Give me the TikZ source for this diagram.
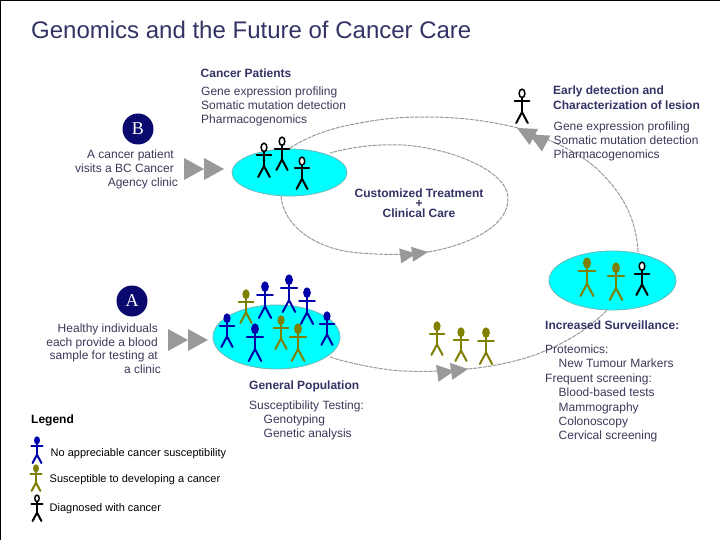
\documentclass[tikz,border=0pt]{standalone}
\usepackage{fontspec}
\usetikzlibrary{shapes.geometric}
\setmainfont{Liberation Sans}
\newfontfamily\badgefont{Liberation Serif}
\definecolor{navy}{HTML}{333366}
\definecolor{bodyc}{HTML}{3A3A5A}
\definecolor{badge}{HTML}{0A0A6E}
\definecolor{blueman}{HTML}{0000AA}
\definecolor{oliveman}{HTML}{7F7F00}
\definecolor{flow}{HTML}{999999}
\definecolor{aqua}{HTML}{00FFFF}
\tikzset{
  body/.style={font=\fontsize{12}{14}\selectfont,text=bodyc,inner sep=0pt,anchor=west,text height=8.6pt,text depth=2.4pt,yshift=-0.8pt},
  head/.style={font=\fontsize{12}{14}\selectfont\bfseries,text=navy,inner sep=0pt,anchor=west,text height=8.6pt,text depth=2.4pt,yshift=-0.8pt},
  righttext/.style={font=\fontsize{12}{14}\selectfont,text=bodyc,inner sep=0pt,anchor=east,text height=8.6pt,text depth=2.4pt,yshift=-0.8pt},
  legendtext/.style={font=\fontsize{11}{12}\selectfont,text=black,inner sep=0pt,anchor=west,text height=8pt,text depth=2.2pt,yshift=-0.5pt},
  crowd/.style={draw=flow!70!aqua,line width=0.8pt,fill=aqua,ellipse},
  flowline/.style={draw=flow,line width=1pt,dash pattern=on 4pt off 1pt},
  tip/.style={fill=flow,draw=none},
  badgec/.style={circle,fill=badge,text=white,inner sep=0pt,minimum size=31pt,font=\fontsize{18}{20}\selectfont\badgefont}
}
\newcommand{\person}[5]{% x, top, bottom, colour, head fill
  \begin{scope}[shift={(#1,#2)},line width=2pt,draw=#4,line cap=round]
    \pgfmathsetmacro{\hh}{#3-#2}
    \draw[fill=#5,line width=1.5pt] (0,0.13*\hh) ellipse ({0.085*\hh pt} and {0.125*\hh pt});
    \draw (0,0.25*\hh) -- (0,0.68*\hh);
    \draw (-0.22*\hh,0.35*\hh) -- (0.22*\hh,0.35*\hh);
    \draw (-0.17*\hh,\hh) -- (0,0.68*\hh) -- (0.17*\hh,\hh);
  \end{scope}}
\newcommand{\dtip}[6]{% x apex, y apex, angle, length, half width, offset
  \begin{scope}[shift={(#1,#2)},rotate=#3]
    \fill[tip] (0,0) -- (-#4,-#5) -- (-#4,#5) -- cycle;
    \fill[tip] (-#6,0) -- (-#6-#4,-#5) -- (-#6-#4,#5) -- cycle;
  \end{scope}}
\begin{document}
\begin{tikzpicture}[x=1pt,y=-1pt]
\useasboundingbox (0,0) rectangle (720,540);
\fill[white] (0,0) rectangle (720,540);
\draw[black,line width=1pt] (0.5,540) -- (0.5,0.5) -- (720,0.5);

\node[inner sep=0pt,anchor=west,text=navy,font=\fontsize{24}{26}\selectfont] (title) at (31,30) {Genomics and the Future of Cancer Care};

% ellipses
\node[crowd,minimum width=115pt,minimum height=47pt,inner sep=0pt] (pat) at (289.5,172.5) {};
\node[crowd,minimum width=127pt,minimum height=64pt,inner sep=0pt] (gen) at (276.5,337) {};
\node[crowd,minimum width=127pt,minimum height=59pt,inner sep=0pt] (sur) at (612.5,280.5) {};

% flow curves
\coordinate (a1) at (290,148);
\coordinate (a2) at (518,128);
\coordinate (a3) at (638,252);
\coordinate (b1) at (281,196);
\coordinate (b2) at (428,252);
\coordinate (b3) at (330,153);
\coordinate (c1) at (330,357);
\coordinate (c2) at (468,369);
\coordinate (c3) at (607,310);
\draw[flowline] (a1) .. controls (310,135) and (335,127) .. (360,123) .. controls (385,118) and (405,117) .. (427,117) .. controls (460,117) and (490,121) .. (a2);
\draw[flowline] (a3) .. controls (636,215) and (620,190) .. (595,167) .. controls (575,150) and (550,140) .. (a2);
\draw[flowline] (b1) .. controls (283,225) and (315,250) .. (360,253) .. controls (385,255) and (405,255) .. (b2);
\draw[flowline] (b2) .. controls (470,245) and (510,225) .. (508,197) .. controls (506,170) and (450,148) .. (403,145) .. controls (380,144) and (355,146) .. (b3);
\draw[flowline] (c1) .. controls (345,362) and (380,370) .. (403,371) .. controls (425,372) and (450,371) .. (c2);
\draw[flowline] (c2) .. controls (500,366) and (530,358) .. (547,350) .. controls (570,340) and (590,328) .. (c3);

% tips
\dtip{224}{169}{0}{20}{11}{20}
\dtip{208}{340}{0}{20}{11}{20}
\dtip{428}{252}{8}{16}{7.5}{12}
\dtip{468}{369}{8}{17}{8.5}{14}
\dtip{517}{128}{152}{19}{9}{14}

% persons
\person{264}{143}{177}{black}{white}
\person{282}{137}{170}{black}{white}
\person{302}{157}{189}{black}{white}
\person{522}{89}{123}{black}{white}
\person{587}{258}{296}{oliveman}{oliveman}
\person{616}{263}{300}{oliveman}{oliveman}
\person{642}{262}{295}{black}{white}
\person{437}{322}{355}{oliveman}{oliveman}
\person{461}{328}{361}{oliveman}{oliveman}
\person{486}{328}{364}{oliveman}{oliveman}
\person{246}{290}{323}{oliveman}{oliveman}
\person{265}{282}{318}{blueman}{blueman}
\person{289}{275}{312}{blueman}{blueman}
\person{307}{288}{324}{blueman}{blueman}
\person{327}{312}{345}{blueman}{blueman}
\person{227}{314}{347}{blueman}{blueman}
\person{255}{324}{361}{blueman}{blueman}
\person{281}{316}{349}{oliveman}{oliveman}
\person{298}{324}{361}{oliveman}{oliveman}
\person{37}{437}{463}{blueman}{blueman}
\person{36}{465}{491}{oliveman}{oliveman}
\person{37}{495}{521}{black}{white}

% badges
\node[badgec] (B) at (138,129) {B};
\node[badgec] (A) at (132,301) {A};

% text
\node[head] (t1) at (200.5,73.5) {Cancer Patients};
\node[body] (t2) at (201,92) {Gene expression profiling};
\node[body] (t3) at (201,106) {Somatic mutation detection};
\node[body] (t4) at (201,119.5) {Pharmacogenomics};

\node[righttext] (l1) at (174,155) {A cancer patient};
\node[righttext] (l2) at (174,169) {visits a BC Cancer};
\node[righttext] (l3) at (178,183) {Agency clinic};

\node[head] (e1) at (553,91) {Early detection and};
\node[head] (e2) at (553,105.5) {Characterization of lesion};
\node[body] (e3) at (553.5,127) {Gene expression profiling};
\node[body] (e4) at (553.5,141) {Somatic mutation detection};
\node[body] (e5) at (553.5,155) {Pharmacogenomics};

\node[inner sep=0pt,align=center,text=navy,font=\fontsize{12}{10}\selectfont\bfseries] (care) at (419,203) {Customized Treatment\\+\\Clinical Care};

\node[righttext] (h1) at (158,329) {Healthy individuals};
\node[righttext] (h2) at (158,343) {each provide a blood};
\node[righttext] (h3) at (158,356) {sample for testing at};
\node[righttext] (h4) at (161,370) {a clinic};

\node[head] (g1) at (249,386) {General Population};
\node[body] (g2) at (249,405.5) {Susceptibility Testing:};
\node[body] (g3) at (263.5,419.5) {Genotyping};
\node[body] (g4) at (263.5,434) {Genetic analysis};

\node[head] (s1) at (545,326) {Increased Surveillance:};
\node[body] (s2) at (545,350) {Proteomics:};
\node[body] (s3) at (558.5,364) {New Tumour Markers};
\node[body] (s4) at (545,379) {Frequent screening:};
\node[body] (s5) at (558.5,393) {Blood-based tests};
\node[body] (s6) at (558.5,408) {Mammography};
\node[body] (s7) at (558.5,422) {Colonoscopy};
\node[body] (s8) at (558.5,436) {Cervical screening};

\node[head,text=black] (lg) at (31,420) {Legend};
\node[legendtext] (lg1) at (50.5,453.5) {No appreciable cancer susceptibility};
\node[legendtext] (lg2) at (49.5,479.5) {Susceptible to developing a cancer};
\node[legendtext] (lg3) at (49.5,508) {Diagnosed with cancer};
\end{tikzpicture}
\end{document}
